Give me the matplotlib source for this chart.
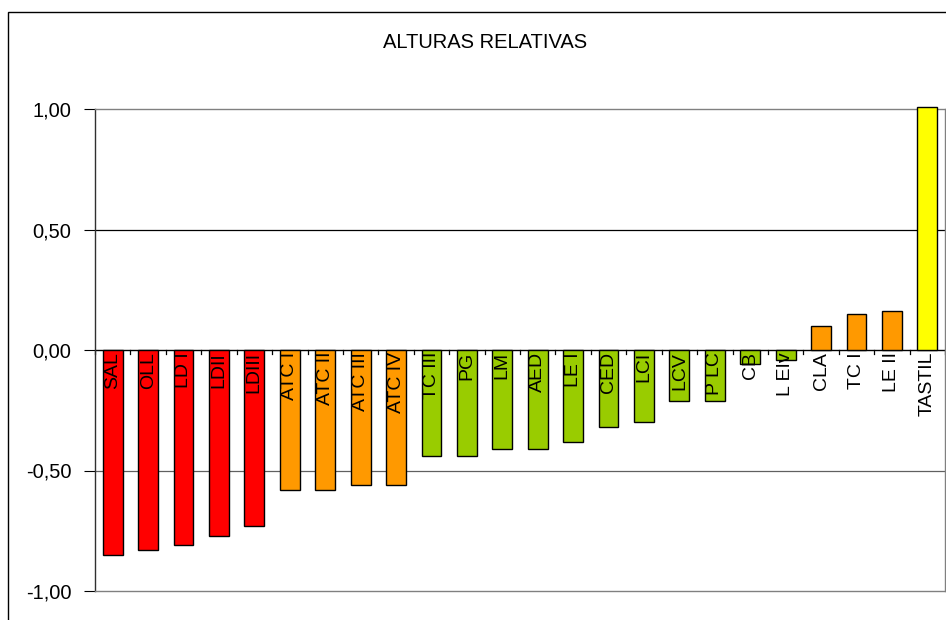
import matplotlib
matplotlib.use("Agg")
import matplotlib.pyplot as plt
import numpy as np
from matplotlib.patches import Rectangle

plt.rcParams["font.family"] = ["Liberation Sans", "DejaVu Sans"]

# Relative heights per site, sorted from lowest to highest
sites = ["SAL", "OLL", "LD I", "LDII", "LDIII", "ATC I", "ATC II", "ATC III",
         "ATC IV", "TC III", "PG", "LM", "AED", "LE I", "CED", "LCI", "LCV",
         "P LC", "CB", "L EIv", "CLA", "TC I", "LE II", "TASTIL"]
heights = [-0.85, -0.83, -0.81, -0.77, -0.73, -0.58, -0.58, -0.56,
           -0.56, -0.44, -0.44, -0.41, -0.41, -0.38, -0.32, -0.30, -0.21,
           -0.21, -0.06, -0.04, 0.10, 0.15, 0.16, 1.01]
groups = ["r", "r", "r", "r", "r", "o", "o", "o",
          "o", "g", "g", "g", "g", "g", "g", "g", "g",
          "g", "g", "g", "o", "o", "o", "y"]
y_ticks = [-1.0, -0.5, 0.0, 0.5, 1.0]
y_tick_labels = ["-1,00", "-0,50", "0,00", "0,50", "1,00"]

palette = {"r": "#FF0000", "o": "#FF9900", "g": "#99CC00", "y": "#FFFF00"}

W, H = 946, 620
fig = plt.figure(figsize=(W / 100, H / 100), dpi=100)

# outer chart frame
fig.patches.append(Rectangle((8 / W, -0.05), 1.0, (H - 12) / H + 0.05,
                             transform=fig.transFigure, fill=False,
                             edgecolor="black", linewidth=1.0))

ax = fig.add_axes([95 / W, (H - 591) / H, 850 / W, 482 / H])

x = np.arange(len(sites))
ax.bar(x, heights, width=0.56, color=[palette[g] for g in groups],
       edgecolor="black", linewidth=1.0, zorder=3, clip_on=False)

for xi, name in zip(x, sites):
    ax.text(xi, -0.008, name, rotation=90, ha="center", va="top",
            fontsize=14, zorder=4)

ax.set_xlim(-0.5, len(sites) - 0.5)
ax.set_ylim(-1.0, 1.0)
ax.set_yticks(y_ticks)
ax.set_yticklabels(y_tick_labels, fontsize=14.5)
ax.tick_params(axis="y", direction="out", length=8, width=0.8, pad=9)
ax.set_xticks([])

# gridlines
for yv in y_ticks[1:-1]:
    if yv == 0:
        continue
    ax.axhline(yv, color="black" if yv > 0 else "#606060", linewidth=0.9, zorder=1)

# category axis through zero with ticks between bars
ax.axhline(0, color="black", linewidth=1.0, zorder=2)
for b in np.arange(len(sites) + 1) - 0.5:
    ax.plot([b, b], [0, -0.018], color="black", linewidth=0.9, zorder=2,
            clip_on=False)

for side in ("top", "right", "bottom"):
    ax.spines[side].set_color("#808080")
    ax.spines[side].set_linewidth(1.0)
ax.spines["left"].set_color("#303030")
ax.spines["left"].set_linewidth(1.0)

fig.text(485 / W, 1 - 43 / H, "ALTURAS RELATIVAS", ha="center", va="center",
         fontsize=14.5)

fig.savefig("out.png", dpi=100)
